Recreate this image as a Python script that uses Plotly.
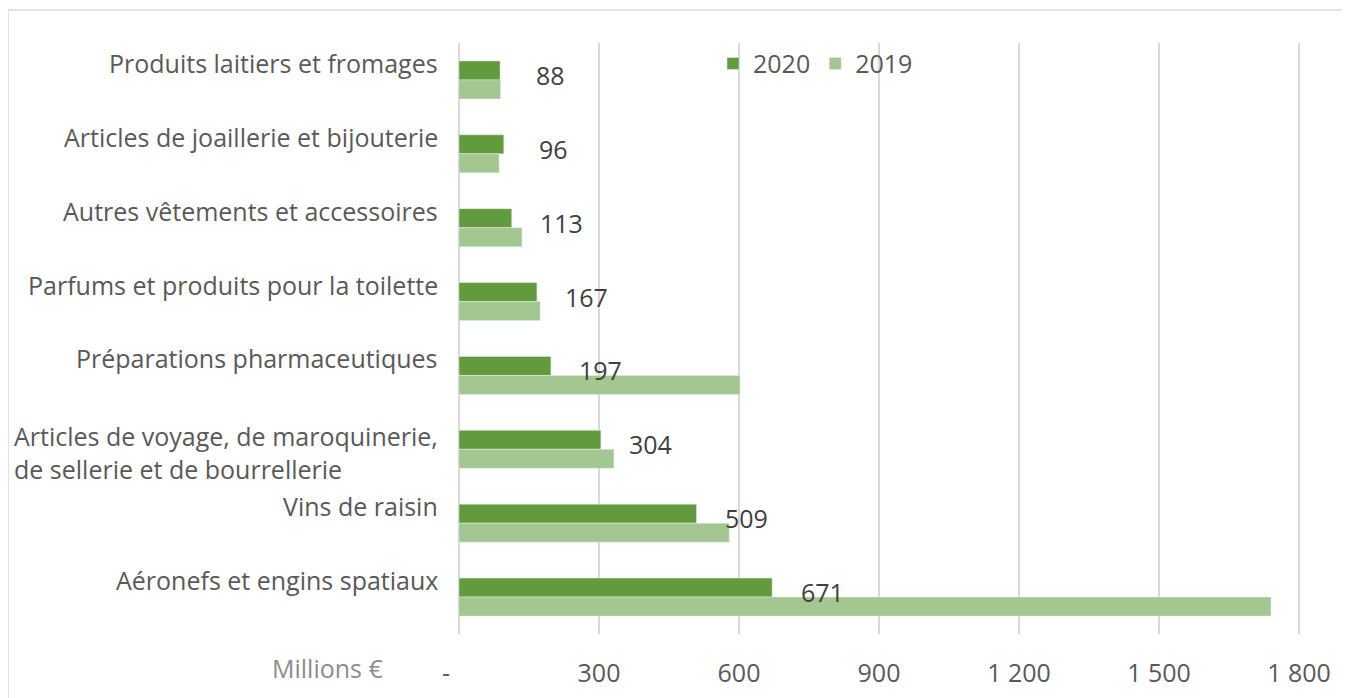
import plotly.graph_objects as go

categories = [
    "Produits laitiers et fromages",
    "Articles de joaillerie et bijouterie",
    "Autres vêtements et accessoires",
    "Parfums et produits pour la toilette",
    "Préparations pharmaceutiques",
    "Articles de voyage, de maroquinerie,<br>de sellerie et de bourrellerie",
    "Vins de raisin",
    "Aéronefs et engins spatiaux",
]
values_2020 = [88, 96, 113, 167, 197, 304, 509, 671]
values_2019 = [89, 86, 135, 174, 602, 332, 579, 1740]
tick_vals = [0, 300, 600, 900, 1200, 1500, 1800]
tick_text = ["-" + "\u00a0" * 4, "300", "600", "900", "1 200", "1 500", "1 800"]

FONT = "Open Sans, Segoe UI, sans-serif"
C2020 = "#629B3E"
C2019 = "#A4C690"

W, H = 1342, 690
L, R, T, B = 451, 20, 35, 64
PW, PH = W - L - R, H - T - B

fig = go.Figure()
fig.add_trace(go.Bar(y=categories, x=values_2020, orientation="h", name="2020",
                     marker=dict(color=C2020)))
fig.add_trace(go.Bar(y=categories, x=values_2019, orientation="h", name="2019",
                     marker=dict(color=C2019)))

annotations = []
for cat in categories:
    multi = "<br>" in cat
    annotations.append(dict(
        x=0, xref="paper", y=cat, yref="y", text=cat, showarrow=False,
        xanchor="right", xshift=-19, yshift=(-3 if multi else 17),
        align="left", font=dict(family=FONT, size=25, color="#595959")))
for cat, v in zip(categories, values_2020):
    annotations.append(dict(
        x=v, xref="x", y=cat, yref="y", text=str(v), showarrow=False,
        xanchor="center", xshift=50, yshift=5,
        font=dict(family=FONT, size=25, color="#404040")))
annotations.append(dict(
    x=0, xref="paper", y=0, yref="paper", text="Millions €", showarrow=False,
    xanchor="center", yanchor="middle", xshift=-132, yshift=-34,
    font=dict(family=FONT, size=25, color="#8C8C8C")))

fig.update_layout(
    width=W, height=H,
    margin=dict(l=L, r=R, t=T, b=B, autoexpand=False),
    paper_bgcolor="white", plot_bgcolor="white",
    barmode="group", bargap=0.485, bargroupgap=0,
    font=dict(family=FONT, size=25, color="#595959"),
    legend=dict(orientation="h", x=(713 - 8 - L) / PW, xanchor="left", y=1.004, yanchor="top",
                font=dict(family=FONT, size=25, color="#595959"),
                bgcolor="rgba(0,0,0,0)", itemwidth=30, tracegroupgap=0),
    annotations=annotations,
    shapes=[dict(type="rect", xref="paper", yref="paper",
                 x0=-L / PW, x1=1.1, y0=-0.3, y1=1 + (T - 2) / PH,
                 line=dict(color="#D9D9D9", width=1.5), layer="below")],
)
fig.update_xaxes(range=[0, PW / (140 / 300)], tickvals=tick_vals, ticktext=tick_text,
                 showgrid=True, gridcolor="#D9D9D9", gridwidth=1.5,
                 zeroline=True, zerolinecolor="#D9D9D9", zerolinewidth=1.5,
                 showline=False, ticks="", ticklabelstandoff=22, automargin=False,
                 tickfont=dict(family=FONT, size=25, color="#595959"))
fig.update_yaxes(autorange="reversed", showticklabels=False, showgrid=False,
                 zeroline=False, showline=False, ticks="", automargin=False)

fig.write_html("out.html")
